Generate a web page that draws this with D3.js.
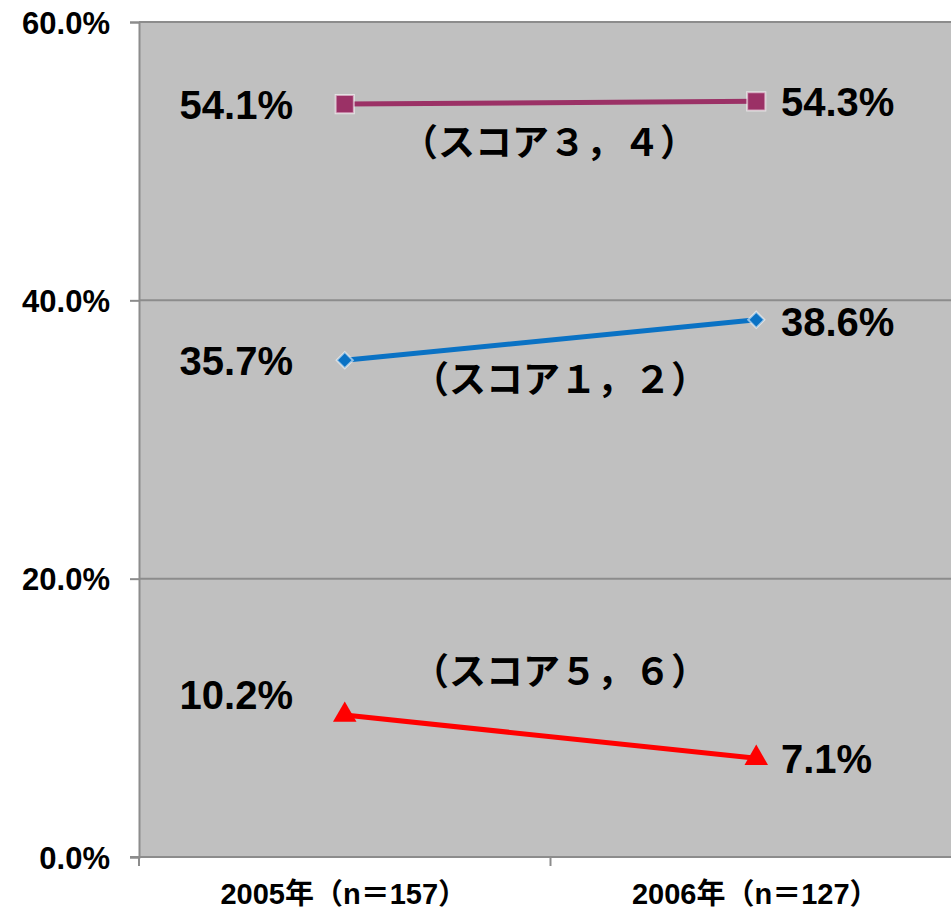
<!DOCTYPE html>
<html>
<head>
<meta charset="utf-8">
<script src="https://cdn.jsdelivr.net/npm/d3@7"></script>
<style>
  html, body { margin: 0; padding: 0; background: #fff; }
  svg { display: block; }
  text { font-family: "Liberation Sans", Arial, "Noto Sans CJK JP", sans-serif; font-weight: bold; fill: #000; }
  .jp { font-family: "Noto Sans CJK JP", sans-serif; }
</style>
</head>
<body>
<svg id="chart" width="951" height="912"></svg>
<script>
// Survey years with sample sizes
const categories = ["2005年（n＝157）", "2006年（n＝127）"];
// Share of respondents per score group (%)
const score12 = [35.7, 38.6];
const score34 = [54.1, 54.3];
const score56 = [10.2, 7.1];
const seriesNames = ["（スコア１，２）", "（スコア３，４）", "（スコア５，６）"];
const yTicks = [0, 20, 40, 60];

const series = [
  { name: seriesNames[1], values: score34, color: "#9B3166", marker: "square", noteX: 549, noteY: 143 },
  { name: seriesNames[0], values: score12, color: "#0A72C4", marker: "diamond", noteX: 560, noteY: 380 },
  { name: seriesNames[2], values: score56, color: "#FF0000", marker: "triangle", noteX: 560, noteY: 672 }
];

const svg = d3.select("#chart");
const plot = { left: 139, right: 962, top: 22, bottom: 857 };

const x = d3.scaleBand().domain(categories).range([plot.left, plot.right]).padding(0);
const y = d3.scaleLinear().domain([0, 60]).range([plot.bottom, plot.top]);
const cx = c => x(c) + x.bandwidth() / 2;

// Plot background
svg.append("rect")
  .attr("x", plot.left).attr("y", plot.top)
  .attr("width", plot.right - plot.left).attr("height", plot.bottom - plot.top)
  .attr("fill", "#C0C0C0");

// Horizontal gridlines
svg.append("g").selectAll("line")
  .data(yTicks.filter(d => d > 0))
  .join("line")
  .attr("x1", plot.left).attr("x2", plot.right)
  .attr("y1", d => y(d)).attr("y2", d => y(d))
  .attr("stroke", "#8C8C8C").attr("stroke-width", 2);

// Y axis
const yAxis = d3.axisLeft(y).tickValues(yTicks).tickSize(9).tickPadding(20)
  .tickFormat(d => d.toFixed(1) + "%");
const gy = svg.append("g").attr("transform", `translate(${plot.left},0)`).call(yAxis);
gy.select(".domain").attr("stroke", "#8C8C8C").attr("stroke-width", 2);
gy.selectAll(".tick line").attr("stroke", "#8C8C8C").attr("stroke-width", 2);
gy.selectAll(".tick text").attr("font-size", 31).attr("font-family", null).attr("dy", "0.36em");

// X axis: ticks at category boundaries
const gx = svg.append("g");
gx.append("line")
  .attr("x1", plot.left - 9).attr("x2", plot.right)
  .attr("y1", plot.bottom).attr("y2", plot.bottom)
  .attr("stroke", "#8C8C8C").attr("stroke-width", 2);
gx.selectAll("line.tk")
  .data(categories.map(c => x(c)).concat([plot.right]))
  .join("line").attr("class", "tk")
  .attr("x1", d => d).attr("x2", d => d)
  .attr("y1", plot.bottom).attr("y2", plot.bottom + 9)
  .attr("stroke", "#8C8C8C").attr("stroke-width", 2);
gx.selectAll("text")
  .data(categories)
  .join("text")
  .attr("x", d => cx(d) - 1)
  .attr("y", 894)
  .attr("dy", "0.36em")
  .attr("text-anchor", "middle")
  .attr("font-size", 29)
  .text(d => d);

// Lines and markers
const line = d3.line().x((d, i) => cx(categories[i])).y(d => y(d));
const sym = {
  square: d3.symbol().type(d3.symbolSquare).size(330),
  diamond: d3.symbol().type(d3.symbolSquare).size(130),
  triangle: d3.symbol().type(d3.symbolTriangle).size(240)
};

series.forEach(s => {
  const g = svg.append("g");
  g.append("path")
    .datum(s.values)
    .attr("d", line)
    .attr("fill", "none")
    .attr("stroke", s.color)
    .attr("stroke-width", 5);
  g.selectAll("path.m")
    .data(s.values)
    .join("path").attr("class", "m")
    .attr("transform", (d, i) => `translate(${cx(categories[i])},${y(d)})` + (s.marker === "diamond" ? " rotate(45)" : ""))
    .attr("d", sym[s.marker]())
    .attr("fill", s.color)
    .attr("stroke", s.marker === "triangle" ? "none" : "rgba(255,255,255,0.55)")
    .attr("stroke-width", 2);

  // Value labels: left of the first point, right of the second
  const lOff = s.marker === "triangle" ? -20 : 0;
  g.append("text")
    .attr("x", 293).attr("y", y(s.values[0]) + lOff)
    .attr("dy", "0.36em").attr("text-anchor", "end")
    .attr("font-size", 40)
    .text(s.values[0].toFixed(1) + "%");
  g.append("text")
    .attr("x", 781).attr("y", y(s.values[1]) + (s.marker === "diamond" ? 2 : 0))
    .attr("dy", "0.36em").attr("text-anchor", "start")
    .attr("font-size", 40)
    .text(s.values[1].toFixed(1) + "%");

  // Series name
  g.append("text")
    .attr("class", "jp")
    .attr("x", s.noteX).attr("y", s.noteY)
    .attr("dy", "0.36em").attr("text-anchor", "middle")
    .attr("font-size", 37)
    .text(s.name);
});
</script>
</body>
</html>
